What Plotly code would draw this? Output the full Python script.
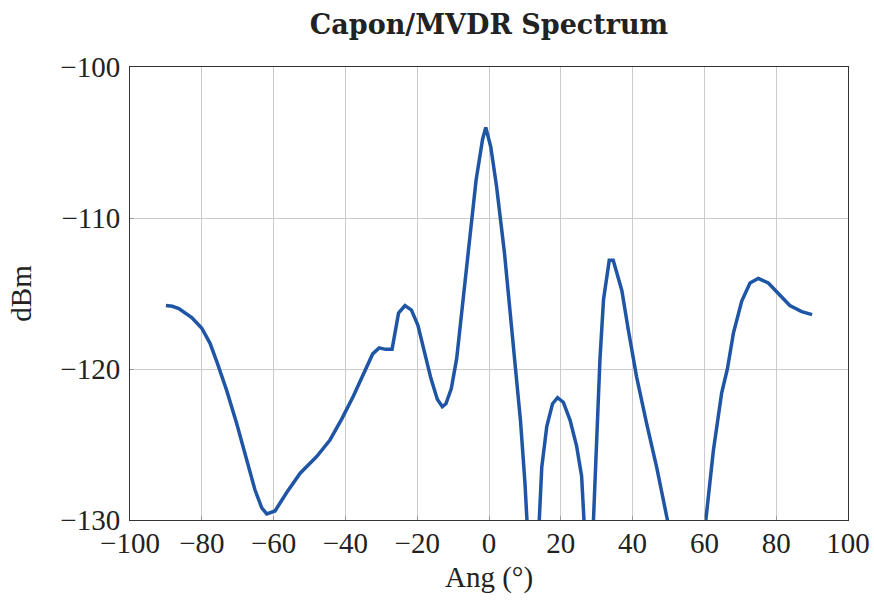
import plotly.graph_objects as go

angles = [-90, -88.2, -86.4, -82.8, -80, -77.7, -75.7, -73.1, -70.3, -67.5, -65.2, -63.3, -61.9,
          -59.6, -56.4, -52.6, -48.0, -44.3, -41.0, -37.8, -34.1, -32.4, -30.6, -28.8, -27.0,
          -25.2, -23.4, -21.6, -19.8, -18.0, -16.2, -14.4, -13.0, -12.0, -10.5, -9.0, -7.2,
          -5.4, -3.6, -1.8, -0.9, 0.5, 2.1, 4.3, 6.0, 7.5, 8.8, 10.0, 10.8, 12.4, 14.0,
          14.7, 16.1, 17.7, 19.1, 20.7, 22.6, 24.4, 25.8, 26.6, 27.8, 29.1, 30.0, 30.9,
          31.9, 33.5, 34.6, 37.0, 38.8, 41.1, 43.9, 46.7, 49.7, 55.0, 60.4, 62.5, 64.8,
          66.4, 68.1, 70.4, 72.7, 75.0, 77.8, 80.1, 83.8, 87.1, 90]
power_dbm = [-115.8, -115.85, -116.0, -116.6, -117.3, -118.3, -119.6, -121.4, -123.6, -126.0, -128.0, -129.2, -129.6,
             -129.4, -128.2, -126.9, -125.8, -124.7, -123.3, -121.8, -119.85, -119.0, -118.6, -118.7, -118.7,
             -116.3, -115.8, -116.1, -117.1, -118.9, -120.6, -122.0, -122.5, -122.3, -121.3, -119.3, -115.4,
             -111.5, -107.5, -104.8, -104.0, -105.3, -107.9, -112.3, -116.5, -120.0, -123.5, -127.5, -130.2, -138.0, -130.0,
             -126.5, -123.8, -122.3, -121.9, -122.2, -123.4, -125.1, -127.1, -130.0, -136.0, -130.0, -124.5, -119.4,
             -115.4, -112.8, -112.8, -114.8, -117.4, -120.5, -123.6, -126.5, -130.0, -136.0, -130.0, -125.4, -121.6,
             -120.0, -117.6, -115.5, -114.3, -114.0, -114.3, -114.9, -115.8, -116.2, -116.4]

x_ticks = [-100, -80, -60, -40, -20, 0, 20, 40, 60, 80, 100]
x_labels = ["−100", "−80", "−60", "−40", "−20", "0", "20", "40", "60", "80", "100"]
y_ticks = [-130, -120, -110, -100]
y_labels = ["−130", "−120", "−110", "−100"]

font_family = "Liberation Serif, DejaVu Serif, serif"
title_family = "DejaVu Serif, Liberation Serif, serif"

fig = go.Figure()
fig.add_trace(go.Scatter(x=angles, y=power_dbm, mode="lines",
                         line=dict(color="#1f55a5", width=3.5), showlegend=False))

fig.update_layout(
    width=874, height=604,
    margin=dict(l=130, r=26, t=67, b=84),
    paper_bgcolor="white", plot_bgcolor="white",
    font=dict(family=font_family, color="#222222"),
    title=dict(text="<b>Capon/MVDR Spectrum</b>", x=0.5595, xanchor="center",
               y=0.96, yanchor="middle", font=dict(size=27, family=title_family, color="#222222")),
)
fig.update_xaxes(range=[-100, 100], tickvals=x_ticks, ticktext=x_labels, automargin=False,
                 showgrid=True, gridcolor="#cccccc", gridwidth=1, zeroline=False,
                 showline=True, linecolor="#333333", linewidth=1, mirror=True,
                 ticks="inside", ticklen=4, tickcolor="#999999", ticklabelstandoff=-3,
                 tickfont=dict(size=29), title=dict(text="Ang (°)", font=dict(size=29), standoff=8))
fig.update_yaxes(range=[-130, -100], tickvals=y_ticks, ticktext=y_labels, automargin=False,
                 showgrid=True, gridcolor="#cccccc", gridwidth=1, zeroline=False,
                 showline=True, linecolor="#333333", linewidth=1, mirror=True,
                 ticks="inside", ticklen=4, tickcolor="#999999", ticklabelstandoff=3,
                 tickfont=dict(size=29), title=dict(text="dBm", font=dict(size=29), standoff=20))

fig.write_html("out.html")
